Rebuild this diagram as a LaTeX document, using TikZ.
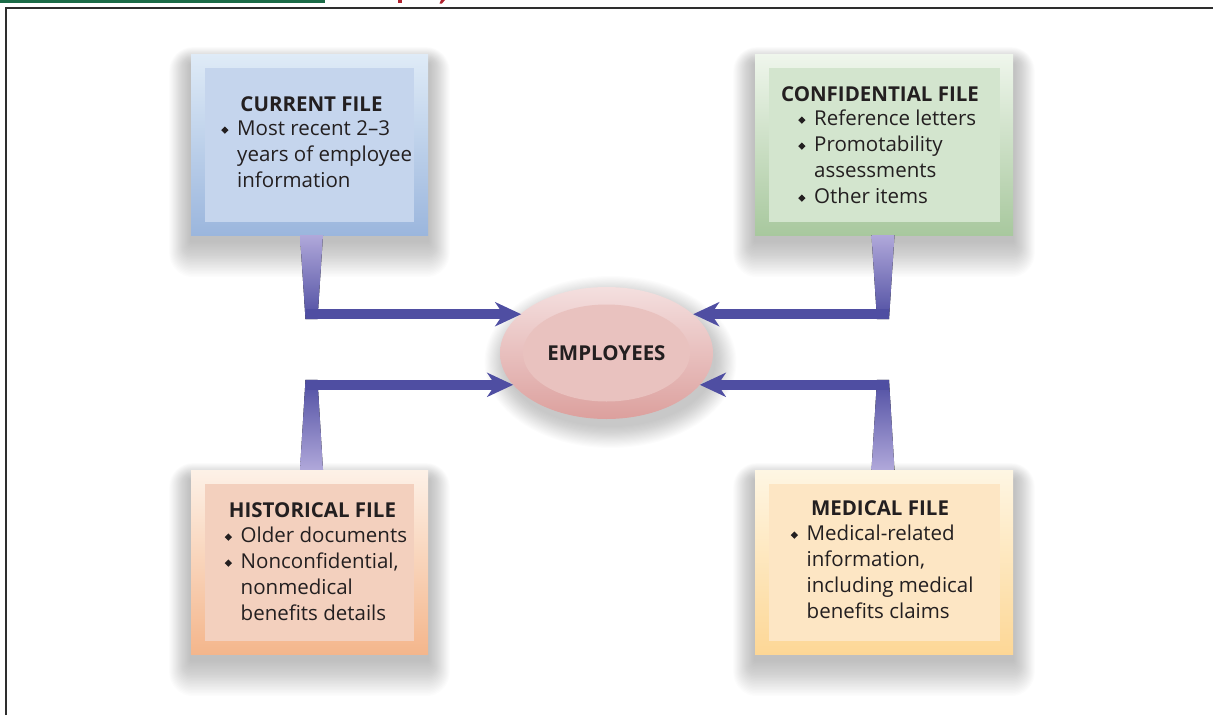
\documentclass[tikz,border=0pt]{standalone}
\usepackage{graphicx}
\usepackage{fontspec}
\setmainfont{Open Sans}
\usetikzlibrary{positioning,shapes.geometric,arrows.meta,backgrounds,calc}

\definecolor{inkgray}{HTML}{231F20}
\definecolor{framegray}{HTML}{2E2E2E}
\definecolor{bargreen}{HTML}{1B6B47}
\definecolor{titlered}{HTML}{B0222E}
\definecolor{flowdark}{HTML}{4F4EA2}
\definecolor{flowlight}{HTML}{B0A8DA}
\definecolor{bluetop}{HTML}{DFEBF7}
\definecolor{bluebot}{HTML}{9BB6DD}
\definecolor{bluein}{HTML}{C5D5ED}
\definecolor{greentop}{HTML}{EFF6EC}
\definecolor{greenbot}{HTML}{A8C89E}
\definecolor{greenin}{HTML}{D3E5CE}
\definecolor{orangetop}{HTML}{FDF1E7}
\definecolor{orangebot}{HTML}{F4B68C}
\definecolor{orangein}{HTML}{F3D0BE}
\definecolor{yellowtop}{HTML}{FEF6E3}
\definecolor{yellowbot}{HTML}{FDD796}
\definecolor{yellowin}{HTML}{FDE6C4}
\definecolor{pinktop}{HTML}{F4DFDF}
\definecolor{pinkbot}{HTML}{DCA09D}
\definecolor{pinkin}{HTML}{E9C2BF}

\newcommand{\bodyfont}{\fontsize{20.5}{26}\selectfont}
\newcommand{\dmd}{\makebox[16pt][l]{\raisebox{1.2pt}{\rotatebox{45}{\color{inkgray}\rule{5.2pt}{5.2pt}}}}}

\tikzset{
  filebox/.style 2 args={rectangle,minimum width=#1pt,minimum height=#2pt,inner sep=0pt},
  ftitle/.style={font=\bodyfont\bfseries,text=inkgray,inner sep=0pt,anchor=base},
  items/.style={font=\bodyfont,text=inkgray,inner sep=0pt,anchor=base west},
  flow/.style={line width=10pt,flowdark,-{Stealth[length=26pt,width=24pt,inset=8pt]}},
  stemdown/.style={top color=flowlight,bottom color=flowdark},
  stemup/.style={top color=flowdark,bottom color=flowlight},
}

\begin{document}
\begin{tikzpicture}[x=1pt,y=-1pt]
  \useasboundingbox (0,0) rectangle (1213,715);
  % page furniture
  \fill[bargreen] (0,0) rectangle (325,3.2);
  \fill[titlered] (397.5,0) rectangle (401.5,3);
  \fill[titlered] (441,0) -- (445,0) -- (442,3.5) -- (439.5,3.5) -- cycle;
  \draw[framegray,line width=2pt] (5.8,715) -- (5.8,7.6) -- (1213,7.6);

  % the four files
  \node[filebox={237}{181},top color=bluetop,bottom color=bluebot] (cur) at (309.5,144.5) {};
  \node[filebox={209}{154},fill=bluein] (curin) at (cur.center) {};
  \node[filebox={258}{181},top color=greentop,bottom color=greenbot] (conf) at (884,144.5) {};
  \node[filebox={231}{154},fill=greenin] (confin) at (conf.center) {};
  \node[filebox={237}{184},top color=orangetop,bottom color=orangebot] (hist) at (309.5,562) {};
  \node[filebox={209}{157},fill=orangein] (histin) at (hist.center) {};
  \node[filebox={258}{184},top color=yellowtop,bottom color=yellowbot] (med) at (884,562) {};
  \node[filebox={231}{157},fill=yellowin] (medin) at (med.center) {};

  \node[ftitle] (curt) at (311.5,111) {CURRENT FILE};
  \node[items] (curl) at (221,135) {\begin{tabular}[t]{@{}l@{}l@{}}
    \dmd & Most recent 2--3\\ & years of employee\\ & information\end{tabular}};
  \node[ftitle] (conft) at (880,101) {CONFIDENTIAL FILE};
  \node[items] (confl) at (798,125) {\begin{tabular}[t]{@{}l@{}l@{}}
    \dmd & Reference letters\\ \dmd & Promotability\\ & assessments\\ \dmd & Other items\end{tabular}};
  \node[ftitle] (histt) at (312.5,517) {HISTORICAL FILE};
  \node[items] (histl) at (224.5,542) {\begin{tabular}[t]{@{}l@{}l@{}}
    \dmd & Older documents\\ \dmd & Nonconfidential,\\ & nonmedical\\ & benefits details\end{tabular}};
  \node[ftitle] (medt) at (880,515) {MEDICAL FILE};
  \node[items] (medl) at (790.5,540) {\begin{tabular}[t]{@{}l@{}l@{}}
    \dmd & Medical-related\\ & information,\\ & including medical\\ & benefits claims\end{tabular}};

  % employees
  \node[ellipse,minimum width=213pt,minimum height=132pt,inner sep=0pt,
        top color=pinktop,bottom color=pinkbot] (emp) at (606.5,353) {};
  \node[ellipse,minimum width=167pt,minimum height=97pt,inner sep=0pt,fill=pinkin,
        font=\bodyfont\bfseries,text=inkgray] (empin) at (emp.center) {EMPLOYEES};

  % connectors
  \coordinate (c1) at ($(cur.south)+(2,79)$);
  \coordinate (c2) at ($(conf.south)+(-1,79)$);
  \coordinate (c3) at ($(hist.north)+(2,-85)$);
  \coordinate (c4) at ($(med.north)+(-1,-85)$);
  \fill[stemdown] ($(cur.south)+(-9.5,0)$) -- ($(cur.south)+(13.5,0)$) -- ($(c1)+(6,5)$) -- ($(c1)+(-6,5)$) -- cycle;
  \fill[stemdown] ($(conf.south)+(-12.5,0)$) -- ($(conf.south)+(10.5,0)$) -- ($(c2)+(6,5)$) -- ($(c2)+(-6,5)$) -- cycle;
  \fill[stemup] ($(c3)+(-6,-5)$) -- ($(c3)+(6,-5)$) -- ($(hist.north)+(13.5,0)$) -- ($(hist.north)+(-9.5,0)$) -- cycle;
  \fill[stemup] ($(c4)+(-6,-5)$) -- ($(c4)+(6,-5)$) -- ($(med.north)+(10.5,0)$) -- ($(med.north)+(-12.5,0)$) -- cycle;
  \draw[flow] ($(c1)+(-6,0)$) -- (emp.155.6 |- c1);
  \draw[flow] ($(c2)+(6,0)$) -- (emp.24.4 |- c2);
  \draw[flow] ($(c3)+(-6,0)$) -- (emp.199 |- c3);
  \draw[flow] ($(c4)+(6,0)$) -- (emp.341 |- c4);

  % soft shadows
  \begin{scope}[on background layer]
    \foreach \b in {cur,conf,hist,med}
      \foreach \k in {1,...,24}
        \fill[black,opacity=0.011,rounded corners=\k pt]
          ($(\b.north west)+(-0.9*\k,-0.7*\k+10)$) rectangle ($(\b.south east)+(0.9*\k,1.5*\k+6)$);
    \foreach \k in {1,...,20}
      \fill[black,opacity=0.012] ($(emp.center)+(4,9)$) ellipse ({104+1.1*\k} and {64+1.1*\k});
  \end{scope}
\end{tikzpicture}
\end{document}
